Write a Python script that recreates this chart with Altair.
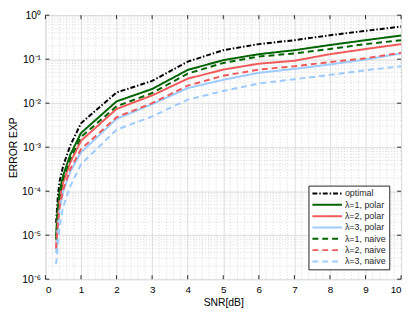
import json
import altair as alt
import pandas as pd

# ---- data ----
snr = [0.3, 0.35, 0.4, 0.5, 0.7, 1, 2, 3, 4, 5, 6, 7, 8, 9, 10]
optimal = [1.9e-5, 8e-5, 1.7e-4, 3.8e-4, 1.1e-3, 3.5e-3, 1.75e-2, 0.032, 0.088, 0.16, 0.22, 0.27, 0.35, 0.44, 0.55]
polar1 = [1.0e-5, 4.5e-5, 1.0e-4, 2.3e-4, 6.8e-4, 2.1e-3, 1.1e-2, 0.021, 0.057, 0.095, 0.13, 0.16, 0.21, 0.27, 0.345]
polar2 = [4.8e-6, 2.5e-5, 6.5e-5, 1.6e-4, 4.5e-4, 1.4e-3, 7.4e-3, 0.015, 0.036, 0.058, 0.079, 0.092, 0.13, 0.17, 0.22]
polar3 = [4e-6, 1.6e-5, 4e-5, 1e-4, 2.8e-4, 7.6e-4, 4.4e-3, 0.0095, 0.022, 0.034, 0.049, 0.06, 0.076, 0.098, 0.135]
naive1 = [8e-6, 3.8e-5, 8.5e-5, 2e-4, 5.6e-4, 1.7e-3, 8.5e-3, 0.017, 0.047, 0.082, 0.115, 0.135, 0.17, 0.22, 0.27]
naive2 = [5e-6, 1.8e-5, 4.5e-5, 1.1e-4, 3.2e-4, 9e-4, 4.8e-3, 0.010, 0.025, 0.042, 0.058, 0.069, 0.086, 0.105, 0.14]
naive3 = [2.2e-6, 6e-6, 1.6e-5, 4.5e-5, 1.3e-4, 4.1e-4, 2.5e-3, 0.005, 0.012, 0.019, 0.028, 0.035, 0.044, 0.056, 0.069]

names = ["optimal", "λ=1, polar", "λ=2, polar", "λ=3, polar",
         "λ=1, naive", "λ=2, naive", "λ=3, naive"]
series = [optimal, polar1, polar2, polar3, naive1, naive2, naive3]
colors = ["#000000", "#006400", "#f05a5a", "#9ccbff", "#006400", "#f05a5a", "#9ccbff"]
dashes = [[5, 2, 1.5, 2], [1, 0], [1, 0], [1, 0], [6, 4], [6, 4], [6, 4]]

x_ticks = list(range(0, 11))
y_ticks = [1e-6, 1e-5, 1e-4, 1e-3, 1e-2, 1e-1, 1]
y_labels = ["10⁰", "10⁻¹", "10⁻²", "10⁻³", "10⁻⁴", "10⁻⁵", "10⁻⁶"]
y_minor = [m * 10.0 ** k for k in range(-6, 0) for m in range(2, 10)]
x_minor = [i / 5 for i in range(1, 50) if i % 5 != 0]

W, H = 361, 268
FONT = "Liberation Sans"

rows = []
for name, vals in zip(names, series):
    for x, y in zip(snr, vals):
        rows.append({"snr": x, "err": y, "series": name})
df = pd.DataFrame(rows)

xs = alt.Scale(domain=[0, 10], nice=False, zero=False)
ys = alt.Scale(type="log", domain=[1e-6, 1], nice=False)

label_expr = json.dumps(y_labels, ensure_ascii=False) + "[round(-log(datum.value)/LN10)]"

x_axis = alt.Axis(values=x_ticks, grid=True, ticks=False, domain=False,
                  labelPadding=6, titlePadding=3, format="d",
                  titleFontWeight="normal", titleFontSize=10.5)
y_axis = alt.Axis(values=y_ticks, grid=True, ticks=False, domain=False,
                  labelPadding=5, labelExpr=label_expr, labelFontSize=10.5,
                  titleX=-37, titleBaseline="top",
                  titleFontWeight="normal", titleFontSize=10.5)


def X(field):
    return alt.X(field, scale=xs, title="SNR[dB]", axis=x_axis)


def Y(field):
    return alt.Y(field, scale=ys, title="ERROR EXP", axis=y_axis)


minor_h = alt.Chart(pd.DataFrame({"v": y_minor})).mark_rule(
    color="#c8c8c8", strokeDash=[1, 2], strokeWidth=0.7
).encode(y=Y("v:Q"), x=alt.value(0), x2=alt.value(W))

minor_v = alt.Chart(pd.DataFrame({"v": x_minor})).mark_rule(
    color="#c8c8c8", strokeDash=[1, 2], strokeWidth=0.7
).encode(x=X("v:Q"), y=alt.value(0), y2=alt.value(H))

xt = pd.DataFrame({"v": x_ticks})
yt = pd.DataFrame({"v": y_ticks})
tick_style = dict(color="#262626", strokeWidth=1)
tick_xb = alt.Chart(xt).mark_rule(**tick_style).encode(
    x=X("v:Q"), y=alt.value(H), y2=alt.value(H - 4))
tick_xt = alt.Chart(xt).mark_rule(**tick_style).encode(
    x=X("v:Q"), y=alt.value(0), y2=alt.value(4))
tick_yl = alt.Chart(yt).mark_rule(**tick_style).encode(
    y=Y("v:Q"), x=alt.value(0), x2=alt.value(4))
tick_yr = alt.Chart(yt).mark_rule(**tick_style).encode(
    y=Y("v:Q"), x=alt.value(W - 4), x2=alt.value(W))

lines = alt.Chart(df).mark_line(strokeWidth=2).encode(
    x=X("snr:Q"),
    y=Y("err:Q"),
    color=alt.Color("series:N", sort=names,
                    scale=alt.Scale(domain=names, range=colors),
                    legend=alt.Legend(title=None, orient="none", legendX=267, legendY=173,
                                      symbolType="stroke", symbolSize=900,
                                      symbolStrokeWidth=2, clipHeight=10, rowPadding=1.5,
                                      labelFontSize=9, labelOffset=2, padding=3,
                                      fillColor="white", strokeColor="#262626",
                                      labelFont=FONT, labelColor="#262626")),
    strokeDash=alt.StrokeDash("series:N", sort=names,
                              scale=alt.Scale(domain=names, range=dashes)),
    order=alt.Order("snr:Q"),
)

chart = alt.layer(minor_h, minor_v, lines, tick_xb, tick_xt, tick_yl, tick_yr).properties(
    width=W, height=H,
    padding={"left": 38, "top": 5, "right": 6, "bottom": 30},
    autosize=alt.AutoSizeParams(type="none"),
).configure_view(
    stroke="#262626", strokeWidth=1
).configure_axis(
    gridColor="#e4e4e4", gridWidth=1,
    labelFont=FONT, titleFont=FONT, labelFontSize=10, titleFontSize=10.5,
    titleFontWeight="normal", labelColor="#262626", titleColor="#262626",
).configure(font=FONT)

chart.save("out.html", embed_options={"renderer": "svg", "actions": False})
